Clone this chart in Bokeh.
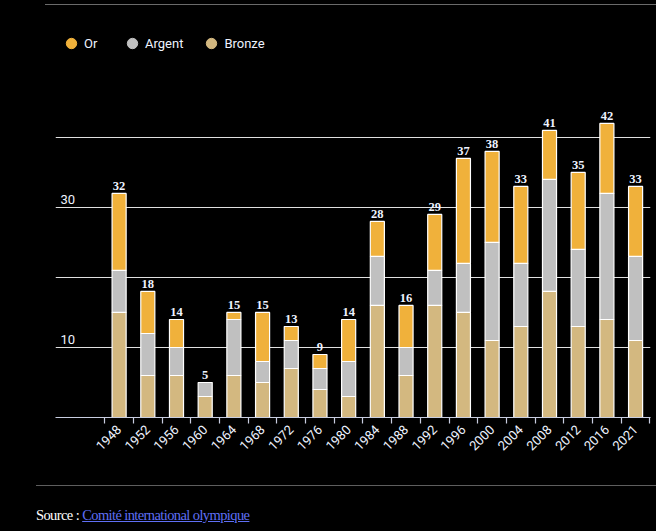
import math
from bokeh.plotting import figure
from bokeh.models import (ColumnDataSource, Range1d, FixedTicker, Legend, LegendItem,
                          Div, CustomJSTickFormatter)
from bokeh.layouts import column
from bokeh.core.properties import value
from bokeh.embed import file_html
from bokeh.resources import INLINE

years = ["1948", "1952", "1956", "1960", "1964", "1968", "1972", "1976", "1980", "1984",
         "1988", "1992", "1996", "2000", "2004", "2008", "2012", "2016", "2021"]
bronze = [15, 6, 6, 3, 6, 5, 7, 4, 3, 16, 6, 16, 15, 11, 13, 18, 13, 14, 11]
argent = [6, 6, 4, 2, 8, 3, 4, 3, 5, 7, 4, 5, 7, 14, 9, 16, 11, 18, 12]
gold = [11, 6, 4, 0, 1, 7, 2, 2, 6, 5, 6, 8, 15, 13, 11, 7, 11, 10, 10]
totals = [b + a + g for b, a, g in zip(bronze, argent, gold)]
grid_values = [10, 20, 30, 40]
ytick_labels = [10, 30]

C_GOLD = "#f0b13b"
C_SILVER = "#c0c0c0"
C_BRONZE = "#d3b880"
TXT = "#eef3ff"

pos = [i + 0.5 for i in range(len(years))]
edges = list(range(len(years) + 1))

src = ColumnDataSource(dict(x=pos, year=years, Bronze=bronze, Argent=argent, Or=gold,
                            total=totals, total_lbl=[str(t) for t in totals]))

X0 = -1.717
p = figure(width=656, height=470, output_backend="svg", toolbar_location=None,
           x_range=Range1d(X0, 19.02), y_range=Range1d(0, 56.7),
           min_border_left=55, min_border_right=6, min_border_top=12, min_border_bottom=61)
p.background_fill_color = "#000000"
p.border_fill_color = "#000000"
p.outline_line_color = None

rs = p.vbar_stack(["Bronze", "Argent", "Or"], x="x", width=0.49, source=src,
                  color=[C_BRONZE, C_SILVER, C_GOLD], line_color="#ffffff", line_width=1.2)

p.text(x="x", y="total", text="total_lbl", source=src, text_align="center",
       text_baseline="bottom", y_offset=-3, text_color=TXT,
       text_font=value("Liberation Serif"), text_font_style="bold", text_font_size="12.5px")

# y labels inside plot area
ysrc = ColumnDataSource(dict(x=[X0] * len(ytick_labels), y=ytick_labels,
                             t=[str(v) for v in ytick_labels]))
p.text(x="x", y="y", text="t", source=ysrc, x_offset=5, y_offset=-3,
       text_baseline="bottom", text_align="left", text_color=TXT,
       text_font=value("Roboto"), text_font_size="13px")

p.yaxis.visible = False
p.xgrid.visible = False
p.ygrid.ticker = FixedTicker(ticks=grid_values)
p.ygrid.grid_line_color = "#e0e0e0"
p.ygrid.grid_line_width = 1

xa = p.xaxis[0]
xa.ticker = FixedTicker(ticks=pos, minor_ticks=edges)
xa.formatter = CustomJSTickFormatter(args=dict(labels=years),
                                     code="return labels[Math.round(tick - 0.5)];")
xa.axis_line_color = "#c8cde0"
xa.axis_line_width = 1.2
xa.major_tick_line_color = None
xa.major_tick_out = 6
xa.major_tick_in = 0
xa.minor_tick_line_color = "#c8cde0"
xa.minor_tick_line_width = 1.2
xa.minor_tick_out = 6
xa.minor_tick_in = 0
xa.major_label_orientation = math.pi / 4
xa.major_label_standoff = 4
xa.major_label_text_color = TXT
xa.major_label_text_font = "Roboto"
xa.major_label_text_font_size = "13px"

leg_items = []
for name, col in [("Or", C_GOLD), ("Argent", C_SILVER), ("Bronze", C_BRONZE)]:
    r = p.scatter(x=[0], y=[-100], size=11, color=col, marker="circle")
    leg_items.append(LegendItem(label=name, renderers=[r]))

legend = Legend(items=leg_items, orientation="horizontal", location=(3, 360))
legend.background_fill_alpha = 0
legend.border_line_color = None
legend.label_text_color = TXT
legend.label_text_font = "Roboto"
legend.label_text_font_size = "13px"
legend.glyph_width = 26
legend.glyph_height = 28
legend.label_height = 28
legend.label_standoff = 0
legend.spacing = 15
legend.padding = 0
legend.margin = 0
p.add_layout(legend)

top_div = Div(text="", width=611, height=4, margin=(4, 0, 0, 45),
              styles={"border-top": "1px solid #6a6a6a", "background-color": "#000000"})
bottom_div = Div(text=('<div style="height:7px;"></div>'
                       '<div style="border-top:1px solid #5e5e5e;margin-left:36px;width:620px;'
                       'padding-top:19px;font-family:\'Liberation Serif\',serif;font-size:14.5px;'
                       'letter-spacing:-0.6px;color:#ffffff;">'
                       'Source\u00a0: <a style="color:#5f6ff5;text-decoration:underline;">'
                       'Comité international olympique</a></div>'),
                 width=656, height=53, margin=(0, 0, 0, 0))

layout = column(top_div, p, bottom_div, spacing=0)
layout.background = "#000000"

html = file_html(layout, INLINE)
html = html.replace("<body>", '<body style="background-color:#000000;">', 1)
html = html.replace("</head>", "<style>html,body{background:#000000;}</style></head>", 1)
open("out.html", "w").write(html)
